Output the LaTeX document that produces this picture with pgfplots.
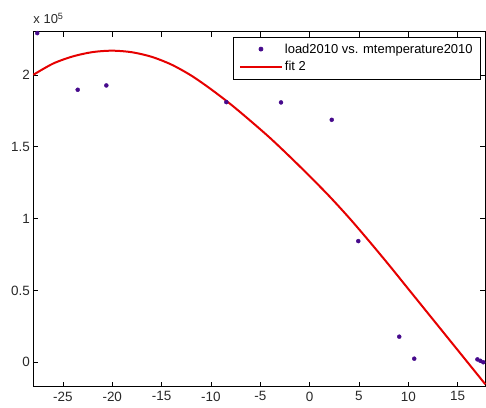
\documentclass[border=0pt]{standalone}
\usepackage{fontspec}
\setmainfont{Liberation Sans}
\usepackage{pgfplots}
\pgfplotsset{compat=1.18}
\definecolor{ptcol}{RGB}{70,10,140}
\definecolor{fitred}{RGB}{230,0,0}
\definecolor{labgray}{RGB}{40,40,40}
\pgfplotsset{
  markleg/.style={legend image code/.code={\draw[##1] plot[mark=*] coordinates {(21bp,0bp)};}},
  lineleg/.style={legend image code/.code={\draw[##1] (0bp,0bp) -- (42bp,0bp);}},
}
\begin{document}
\begin{tikzpicture}
\path[use as bounding box] (-33.3bp,-21.3bp) rectangle (452.7bp,386.7bp);
\begin{axis}[
  scale only axis, width=452bp, height=355bp,
  xmin=-28, xmax=17.8, ymin=-0.17, ymax=2.30,
  xtick={-25,-20,-15,-10,-5,0,5,10,15},
  xticklabels={-25,-20,-15,-10,-5,0,5,10,15},
  ytick={0,0.5,1,1.5,2},
  yticklabels={0,0.5,1,1.5,2},
  tick align=inside, major tick length=5bp,
  tick style={black, line width=0.6bp},
  axis line style={line width=0.75bp},
  every tick label/.append style={font=\fontsize{13.5}{15}\selectfont, text=labgray},
  xticklabel style={yshift=-1.5bp},
  clip=false,
  legend cell align=left,
  legend style={at={(1,1)}, anchor=north east, xshift=-4.6bp, yshift=-5bp,
    draw=black, line width=0.75bp, inner xsep=5.7bp, inner ysep=4.6bp,
    row sep=3bp, font=\fontsize{13}{15}\selectfont},
]
\addplot[only marks, mark=*, mark size=2bp, ptcol, markleg]
  coordinates {
  (-27.6,2.29) (-23.5,1.896) (-20.6,1.926) (-8.44,1.81) (-2.9,1.808)
  (2.24,1.687) (4.93,0.843) (9.08,0.178) (10.6,0.025)
  (17.0,0.02) (17.3,0.01) (17.6,0.0)};
\addlegendentry{load2010 vs. mtemperature2010}
\addplot[fitred, line width=2bp, smooth, lineleg]
  coordinates {
  (-28,2.000) (-26,2.078) (-24,2.128) (-22,2.158) (-20,2.168) (-18,2.157)
  (-16,2.125) (-14,2.071) (-12,1.995) (-10,1.900) (-8,1.795) (-6,1.680)
  (-4,1.560) (-2,1.430) (0,1.295) (2,1.155) (4,1.005) (6,0.845)
  (8,0.680) (10,0.510) (12,0.340) (14,0.170) (16,0.000) (17.8,-0.153)};
\addlegendentry{fit 2}
\node[anchor=base west, inner sep=0pt, yshift=7.7bp, text=labgray,
  font=\fontsize{13}{15}\selectfont] at (rel axis cs:0,1) {x 10\textsuperscript{5}};
\end{axis}
\end{tikzpicture}
\end{document}
